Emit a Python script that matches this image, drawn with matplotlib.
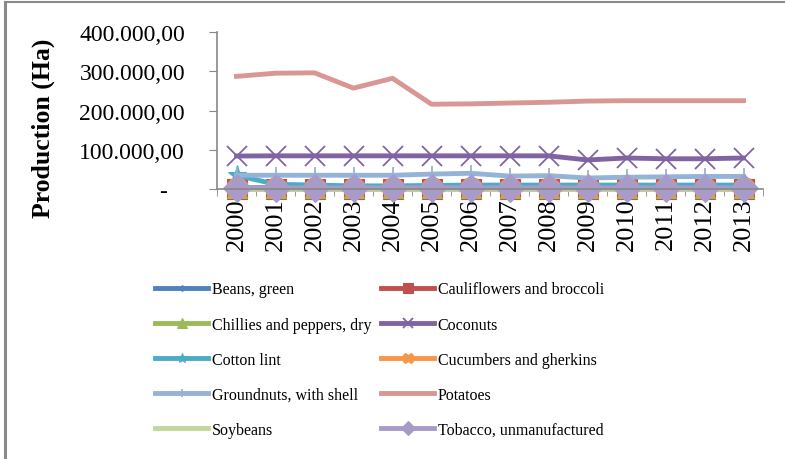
import numpy as np
import matplotlib.pyplot as plt
from matplotlib.lines import Line2D
from matplotlib.ticker import FuncFormatter

plt.rcParams['font.family'] = 'Liberation Serif'

years = [str(y) for y in range(2000, 2014)]

beans = [3500, 3600, 3400, 3500, 3600, 3700, 3800, 3600, 3700, 3500, 3600, 3700, 3600, 3700]
cauliflowers = [300, 300, 300, 300, 300, 300, 300, 300, 300, 300, 300, 300, 300, 300]
chillies = [3000, 2800, 2600, 2500, 2700, 2900, 3000, 2800, 2700, 2600, 2800, 2900, 3000, 2900]
coconuts = [84000, 84500, 84500, 84500, 84500, 84500, 84500, 84500, 84500, 74000, 79000, 77000, 77000, 79000]
cotton = [35000, 12000, 10000, 8000, 8000, 9000, 10000, 10000, 10000, 10000, 10000, 10000, 10000, 10000]
cucumbers = [2000, 2000, 2000, 2000, 2000, 2000, 2000, 2000, 2000, 2000, 2000, 2000, 2000, 2000]
groundnuts = [35000, 35000, 35000, 35000, 35000, 38000, 40000, 33000, 34000, 28000, 30000, 31000, 32000, 32000]
potatoes = [287000, 295000, 296000, 257000, 282000, 216000, 217000, 219000, 221000, 224000, 225000, 225000, 225000, 225000]
soybeans = [1000, 1000, 1000, 1000, 1000, 1000, 1000, 1000, 1000, 1000, 1000, 1000, 1000, 1000]
tobacco = [3000, 3000, 2800, 2900, 3000, 3100, 3000, 2900, 3000, 2800, 2900, 3000, 3000, 3000]

series = [
    ("Beans, green", beans, '#4F81BD', 'D', 6),
    ("Cauliflowers and broccoli", cauliflowers, '#C0504D', 's', 14.5),
    ("Chillies and peppers, dry", chillies, '#9BBB59', '^', 14),
    ("Coconuts", coconuts, '#8064A2', 'x', 14),
    ("Cotton lint", cotton, '#4BACC6', '*', 14),
    ("Cucumbers and gherkins", cucumbers, '#F79646', 'X', 14.5),
    ("Groundnuts, with shell", groundnuts, '#95B3D7', '|', 12),
    ("Potatoes", potatoes, '#D99694', None, 0),
    ("Soybeans", soybeans, '#C3D69B', None, 0),
    ("Tobacco, unmanufactured", tobacco, '#A99BC8', 'D', 14),
]

fig = plt.figure(figsize=(7.85, 4.6), dpi=100)
ax = fig.add_axes([217/785, 1 - 190/460, (763 - 217)/785, (190 - 33)/460])

x = np.arange(len(years))
handles = []
for name, vals, col, mk, ms in series:
    h, = ax.plot(x, vals, color=col, lw=3.5, marker=mk, markersize=ms,
                 markeredgewidth=1.3 if mk in ('x', '|') else 0.8,
                 markeredgecolor=col, solid_joinstyle='round', label=name,
                 clip_on=False)
    handles.append(h)

ax.set_xlim(-0.5, len(years) - 0.5)
ax.set_ylim(0, 400000)
ax.set_yticks([0, 100000, 200000, 300000, 400000])
ax.yaxis.set_major_formatter(FuncFormatter(
    lambda v, p: '-   ' if v == 0 else '{:,.2f}'.format(v).replace(',', 'X').replace('.', ',').replace('X', '.')))
ax.set_xticks(x)
ax.set_xticklabels(years, rotation=90, fontsize=19)
ax.set_xticks(np.arange(-0.5, len(years)), minor=True)
ax.tick_params(axis='x', which='major', length=0, pad=6)
ax.tick_params(axis='x', which='minor', length=5, color='#888888')
ax.tick_params(axis='y', labelsize=17, length=6, color='#888888', pad=17)

for s in ['top', 'right']:
    ax.spines[s].set_visible(False)
for s in ['left', 'bottom']:
    ax.spines[s].set_color('#888888')
    ax.spines[s].set_linewidth(1.2)
ax.patch.set_alpha(0)

ax.set_ylabel('Production (Ha)', fontsize=18.5, fontweight='bold')
ax.yaxis.set_label_coords(-0.297, 0.395)

order = [0, 2, 4, 6, 8, 1, 3, 5, 7, 9]
fig.legend([handles[i] for i in order], [series[i][0] for i in order],
           ncol=2, loc='upper left', bbox_to_anchor=(141/785, 1 - 268/460),
           frameon=False, fontsize=11.5, handlelength=3.3, handletextpad=0.25,
           labelspacing=1.2, columnspacing=0.6, markerscale=0.5)

fig.add_artist(Line2D([4.5/785, 4.5/785], [0, 1 - 3/460], color='#8a8a8a', lw=2.2))
fig.add_artist(Line2D([4.5/785, 1], [1 - 3/460, 1 - 3/460], color='#8a8a8a', lw=1.5))

fig.savefig('out.png', dpi=100)
